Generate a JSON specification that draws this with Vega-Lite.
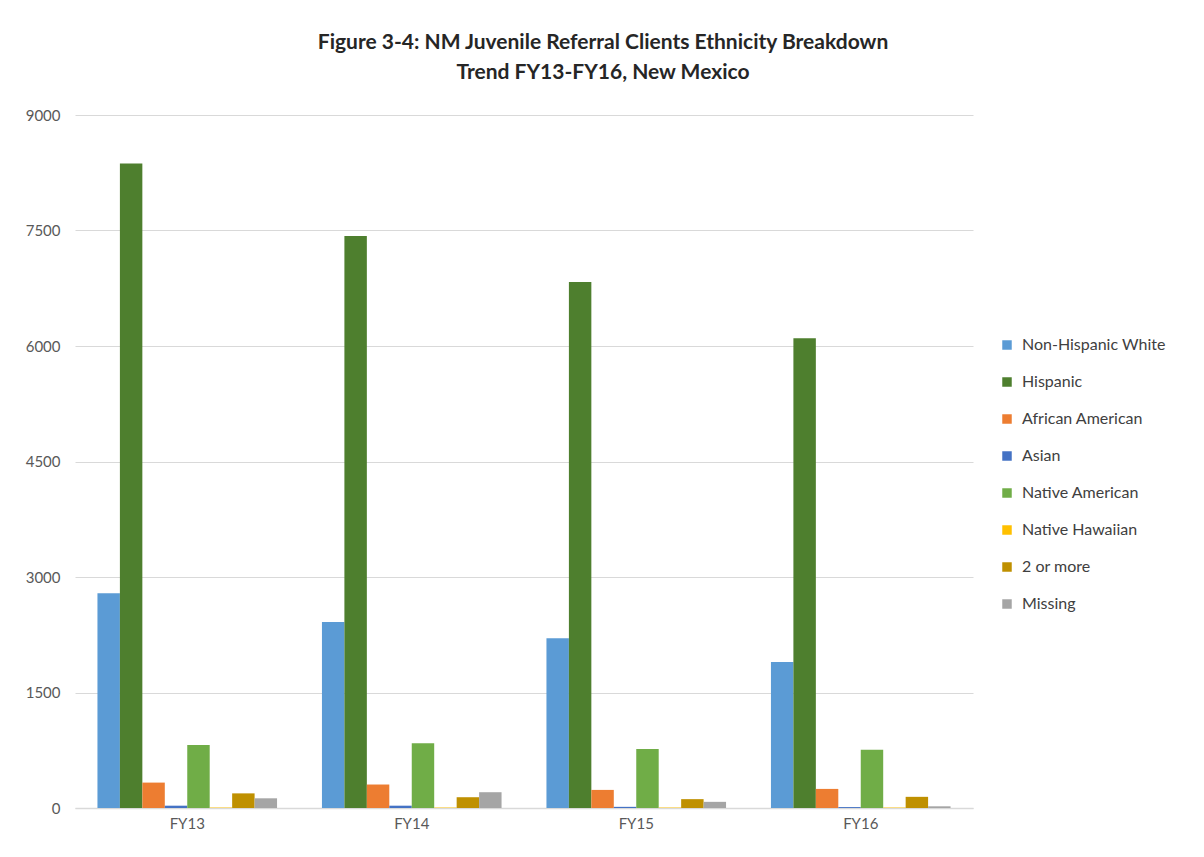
{
  "$schema": "https://vega.github.io/schema/vega-lite/v6.json",
  "width": 898,
  "height": 693,
  "autosize": "none",
  "padding": {"left": 75, "top": 115, "right": 231, "bottom": 49},
  "background": "white",
  "title": {
    "text": ["Figure 3-4: NM Juvenile Referral Clients Ethnicity Breakdown", "Trend FY13-FY16, New Mexico"],
    "font": "Lato",
    "fontSize": 21,
    "fontWeight": "bold",
    "color": "#262626",
    "anchor": "middle",
    "dx": 79,
    "offset": 25,
    "lineHeight": 30
  },
  "data": {
    "values": [
      {"year": "FY13", "ethnicity": "Non-Hispanic White", "count": 2790},
      {"year": "FY13", "ethnicity": "Hispanic", "count": 8370},
      {"year": "FY13", "ethnicity": "African American", "count": 330},
      {"year": "FY13", "ethnicity": "Asian", "count": 30},
      {"year": "FY13", "ethnicity": "Native American", "count": 818},
      {"year": "FY13", "ethnicity": "Native Hawaiian", "count": 6},
      {"year": "FY13", "ethnicity": "2 or more", "count": 190},
      {"year": "FY13", "ethnicity": "Missing", "count": 126},
      {"year": "FY14", "ethnicity": "Non-Hispanic White", "count": 2415},
      {"year": "FY14", "ethnicity": "Hispanic", "count": 7430},
      {"year": "FY14", "ethnicity": "African American", "count": 305},
      {"year": "FY14", "ethnicity": "Asian", "count": 30},
      {"year": "FY14", "ethnicity": "Native American", "count": 840},
      {"year": "FY14", "ethnicity": "Native Hawaiian", "count": 6},
      {"year": "FY14", "ethnicity": "2 or more", "count": 140},
      {"year": "FY14", "ethnicity": "Missing", "count": 205},
      {"year": "FY15", "ethnicity": "Non-Hispanic White", "count": 2205},
      {"year": "FY15", "ethnicity": "Hispanic", "count": 6830},
      {"year": "FY15", "ethnicity": "African American", "count": 235},
      {"year": "FY15", "ethnicity": "Asian", "count": 15},
      {"year": "FY15", "ethnicity": "Native American", "count": 766},
      {"year": "FY15", "ethnicity": "Native Hawaiian", "count": 6},
      {"year": "FY15", "ethnicity": "2 or more", "count": 115},
      {"year": "FY15", "ethnicity": "Missing", "count": 80},
      {"year": "FY16", "ethnicity": "Non-Hispanic White", "count": 1895},
      {"year": "FY16", "ethnicity": "Hispanic", "count": 6100},
      {"year": "FY16", "ethnicity": "African American", "count": 248},
      {"year": "FY16", "ethnicity": "Asian", "count": 12},
      {"year": "FY16", "ethnicity": "Native American", "count": 755},
      {"year": "FY16", "ethnicity": "Native Hawaiian", "count": 6},
      {"year": "FY16", "ethnicity": "2 or more", "count": 145},
      {"year": "FY16", "ethnicity": "Missing", "count": 22}
    ]
  },
  "mark": {"type": "bar"},
  "encoding": {
    "x": {
      "field": "year",
      "type": "nominal",
      "title": null,
      "scale": {"paddingInner": 0.2, "paddingOuter": 0.1},
      "axis": {
        "labelAngle": 0,
        "labelFont": "Lato",
        "labelFontSize": 15,
        "labelColor": "#595959",
        "labelPadding": 8,
        "ticks": false,
        "domainColor": "#D9D9D9",
        "domainWidth": 1.5,
        "grid": false
      }
    },
    "xOffset": {
      "field": "ethnicity",
      "type": "nominal",
      "sort": ["Non-Hispanic White", "Hispanic", "African American", "Asian", "Native American", "Native Hawaiian", "2 or more", "Missing"],
      "scale": {"paddingInner": 0, "paddingOuter": 0}
    },
    "y": {
      "field": "count",
      "type": "quantitative",
      "title": null,
      "scale": {"domain": [0, 9000], "nice": false},
      "axis": {
        "values": [0, 1500, 3000, 4500, 6000, 7500, 9000],
        "format": "d",
        "labelFont": "Lato",
        "labelFontSize": 15,
        "labelColor": "#595959",
        "labelPadding": 15,
        "ticks": false,
        "domain": false,
        "gridColor": "#D9D9D9",
        "gridWidth": 1
      }
    },
    "color": {
      "field": "ethnicity",
      "type": "nominal",
      "sort": ["Non-Hispanic White", "Hispanic", "African American", "Asian", "Native American", "Native Hawaiian", "2 or more", "Missing"],
      "scale": {
        "domain": ["Non-Hispanic White", "Hispanic", "African American", "Asian", "Native American", "Native Hawaiian", "2 or more", "Missing"],
        "range": ["#5B9BD5", "#4E7F2E", "#ED7D31", "#4472C4", "#70AD47", "#FFC000", "#BF9000", "#A5A5A5"]
      },
      "legend": {
        "title": null,
        "orient": "none",
        "legendX": 924,
        "legendY": 222,
        "symbolType": "square",
        "symbolSize": 90,
        "labelFont": "Lato",
        "labelFontSize": 16,
        "labelColor": "#404040",
        "rowPadding": 21,
        "labelOffset": 7
      }
    }
  },
  "config": {
    "view": {"stroke": null}
  }
}
